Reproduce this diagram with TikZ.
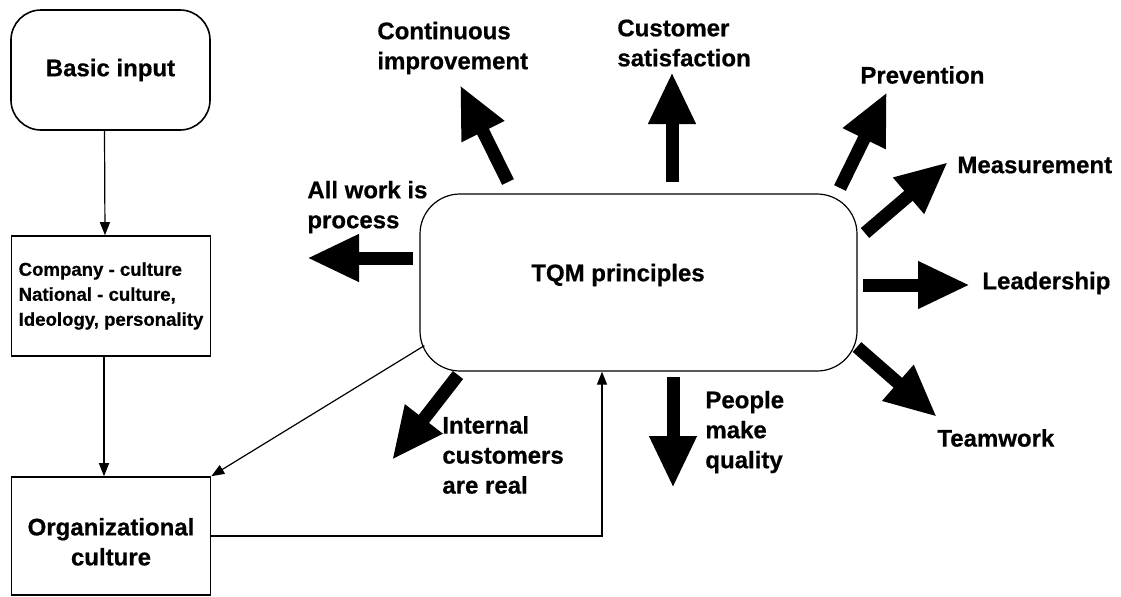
\documentclass[tikz,border=0pt]{standalone}
\usepackage{fontspec}
\setmainfont{Liberation Sans}[BoldFeatures={FakeBold=0.6}]
\usetikzlibrary{arrows.meta}
\begin{document}
\begin{tikzpicture}[x=0.5pt,y=-0.5pt,
	every node/.style={font=\bfseries\fontsize{12}{15}\selectfont},
	box/.style={draw,line width=0.8pt,minimum width=99.5pt,minimum height=60pt,inner sep=2pt},
	lbl/.style={anchor=west,align=left,inner sep=0pt},
	thin arrow/.style={line width=0.6pt,-{Triangle[length=6.5pt,width=5pt]}},
	fat arrow/.style={line width=6.5pt,-{Triangle[length=26pt,width=22pt]}}]
	
	\useasboundingbox (0,0) rectangle (1121,596);
	
	\node[box, rounded corners=15pt] (1) at (110.5,70) {Basic input};
	\node[box, align=left, font=\bfseries\fontsize{9.3}{12.5}\selectfont] (2) at (111,296) {Company - culture\\National - culture,\\Ideology, personality};
	\node[box, minimum height=59pt, align=center, text height=29.5pt] (3) at (111,536) {Organizational\\culture};
	\node[box, line width=0.6pt, rounded corners=20pt, minimum width=218.5pt, minimum height=88.5pt] (4) at (638.5,282.5) {};
	\node (5) at (618,275) {TQM principles};
	
	\node[lbl] (6) at (307,207) {All work is\\process};
	\node[lbl] (7) at (377,48) {Continuous\\improvement};
	\node[lbl] (8) at (617,43) {Customer\\satisfaction};
	\node[lbl] (9) at (860,75) {Prevention};
	\node[lbl] (10) at (957,165) {Measurement};
	\node[lbl] (11) at (982,283) {Leadership};
	\node[lbl] (12) at (937,438) {Teamwork};
	\node[lbl] (13) at (705,432) {People\\make\\quality};
	\node[lbl] (14) at (442,455) {Internal\\customers\\are real};
	
	\coordinate (s6) at (413,258);
	\coordinate (t6) at (307,258);
	\coordinate (s7) at (508,182);
	\coordinate (t7) at (460,85);
	\coordinate (s8) at (672,182);
	\coordinate (t8) at (672,72);
	\coordinate (s9) at (840,188);
	\coordinate (t9) at (887,92);
	\coordinate (s10) at (865,233);
	\coordinate (t10) at (948,162);
	\coordinate (s11) at (863,285);
	\coordinate (t11) at (970,285);
	\coordinate (s12) at (857,347);
	\coordinate (t12) at (937,417);
	\coordinate (s13) at (673,377);
	\coordinate (t13) at (673,488);
	\coordinate (s14) at (458,375);
	\coordinate (t14) at (392,460);
	
	\draw[thin arrow] ([xshift=-3pt]1.south) -- ([xshift=-3pt]2.north);
	\draw[thin arrow] ([xshift=-3.5pt]2.south) -- ([xshift=-3.5pt]3.north);
	\draw[thin arrow] ([shift={(5,-26)}]4.south west) -- (3.north east);
	\draw[thin arrow] (3.east) -| ([xshift=-18.25pt]4.south);
	
	\draw[fat arrow] (s6) -- (t6);
	\draw[fat arrow] (s7) -- (t7);
	\draw[fat arrow] (s8) -- (t8);
	\draw[fat arrow] (s9) -- (t9);
	\draw[fat arrow] (s10) -- (t10);
	\draw[fat arrow] (s11) -- (t11);
	\draw[fat arrow] (s12) -- (t12);
	\draw[fat arrow] (s13) -- (t13);
	\draw[fat arrow] (s14) -- (t14);

\end{tikzpicture}
\end{document}
